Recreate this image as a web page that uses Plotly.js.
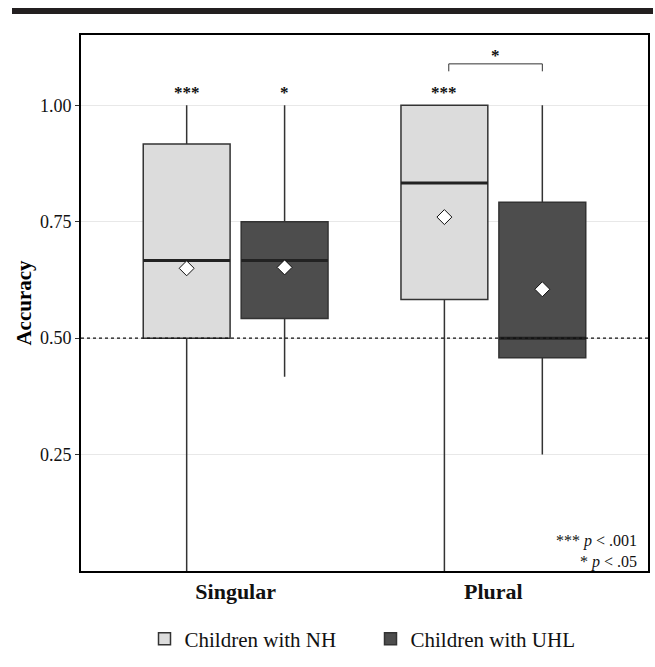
<!DOCTYPE html>
<html><head><meta charset="utf-8">
<script src="https://cdn.plot.ly/plotly-3.0.1.min.js"></script>
<style>
html,body{margin:0;padding:0;background:#fff;}
#bar{position:absolute;left:12px;top:8px;width:641px;height:6px;background:#231f20;z-index:5;}
#chart{position:absolute;left:0;top:0;width:655px;height:667px;}
</style>
</head><body>
<div id="chart"></div><div id="bar"></div>
<script>
// ---- data ----
const categories = ['Singular', 'Plural'];
const groups = ['Children with NH', 'Children with UHL'];

const nhLower  = [0.000, 0.000];
const nhQ1     = [0.500, 0.583];
const nhMedian = [0.667, 0.833];
const nhQ3     = [0.917, 1.000];
const nhUpper  = [1.000, 1.000];
const nhMean   = [0.650, 0.760];

const uhlLower  = [0.417, 0.250];
const uhlQ1     = [0.542, 0.458];
const uhlMedian = [0.667, 0.500];
const uhlQ3     = [0.750, 0.792];
const uhlUpper  = [1.000, 1.000];
const uhlMean   = [0.652, 0.605];

const sigCategory = [0, 0, 1];
const sigGroup    = [0, 1, 0];
const sigText     = ['***', '*', '***'];
const sigY        = [1.027, 1.027, 1.027];

const bracketCategory = 1;
const bracketY = 1.089;
const bracketTip = 1.073;
const bracketText = '*';
const bracketTextY = 1.107;

const chanceLevel = 0.5;
const yTicks = [0.25, 0.50, 0.75, 1.00];

// ---- layout helpers (styles) ----
const groupOffset = [-0.19, 0.19];
const boxWidth = 0.337;
const fills = ['#dcdcdc', '#4d4d4d'];
const lineCol = '#333333';
const FONT = 'Liberation Serif, Times New Roman, serif';

function pos(ci, gi) { return ci + 1 + groupOffset[gi]; }

const stats = [
  {lo: nhLower, q1: nhQ1, md: nhMedian, q3: nhQ3, up: nhUpper, mn: nhMean},
  {lo: uhlLower, q1: uhlQ1, md: uhlMedian, q3: uhlQ3, up: uhlUpper, mn: uhlMean}
];

const traces = [];
stats.forEach((s, gi) => {
  traces.push({
    type: 'box', name: groups[gi],
    x: categories.map((c, ci) => pos(ci, gi)),
    lowerfence: s.lo, q1: s.q1, median: s.md, q3: s.q3, upperfence: s.up,
    width: boxWidth, whiskerwidth: 0, boxpoints: false,
    fillcolor: fills[gi], line: {color: lineCol, width: 1.5},
    hoverinfo: 'skip'
  });
});
// thick median lines
stats.forEach((s, gi) => {
  const xs = [], ys = [];
  categories.forEach((c, ci) => {
    const p = pos(ci, gi);
    xs.push(p - boxWidth / 2, p + boxWidth / 2, null);
    ys.push(s.md[ci], s.md[ci], null);
  });
  traces.push({type: 'scatter', mode: 'lines', x: xs, y: ys, showlegend: false,
    line: {color: '#222', width: 3}, hoverinfo: 'skip'});
});
// mean diamonds
stats.forEach((s, gi) => {
  traces.push({type: 'scatter', mode: 'markers',
    x: categories.map((c, ci) => pos(ci, gi)), y: s.mn, showlegend: false,
    marker: {symbol: 'diamond', size: 11.5, color: '#fff', line: {color: '#111', width: 1}},
    hoverinfo: 'skip'});
});

const annotations = sigText.map((t, i) => ({
  x: pos(sigCategory[i], sigGroup[i]), y: sigY[i], xref: 'x', yref: 'y',
  text: '<b>' + t + '</b>', showarrow: false, yanchor: 'middle',
  font: {family: FONT, size: 17, color: '#111'}
}));
const bx0 = pos(bracketCategory, 0) + 0.017, bx1 = pos(bracketCategory, 1);
annotations.push({x: (bx0 + bx1) / 2, y: bracketTextY, xref: 'x', yref: 'y',
  text: '<b>' + bracketText + '</b>', showarrow: false, yanchor: 'middle',
  font: {family: FONT, size: 17, color: '#111'}});
annotations.push({x: 1, y: 0, xref: 'paper', yref: 'paper', xanchor: 'right', yanchor: 'bottom',
  xshift: -9, yshift: -2, align: 'right', showarrow: false,
  text: '*** <i>p</i> < .001<br>* <i>p</i> < .05',
  font: {family: FONT, size: 16, color: '#111'}});

const shapes = [
  {type: 'line', xref: 'paper', yref: 'y', x0: 0, x1: 1, y0: chanceLevel, y1: chanceLevel,
   line: {color: '#111', width: 1.3, dash: 'dot'}, layer: 'above'},
  {type: 'path', xref: 'x', yref: 'y',
   path: `M${bx0},${bracketTip} L${bx0},${bracketY} L${bx1},${bracketY} L${bx1},${bracketTip}`,
   line: {color: '#333', width: 1}}
];

const layout = {
  width: 655, height: 667,
  margin: {l: 81, r: 7, t: 35, b: 90},
  paper_bgcolor: '#fff', plot_bgcolor: '#fff',
  font: {family: FONT, color: '#111'},
  showlegend: true,
  legend: {orientation: 'h', x: 0.112, xanchor: 'left', y: -0.127, yanchor: 'middle',
    font: {family: FONT, size: 21, color: '#111'}, entrywidth: 181, traceorder: 'normal'},
  xaxis: {range: [0.4, 2.6], tickvals: categories.map((c, i) => i + 1),
    ticktext: categories.map(c => '<b>' + c + '</b>'),
    tickfont: {family: FONT, size: 22, color: '#111'},
    showgrid: false, zeroline: false, ticks: '', showline: true, mirror: true,
    linecolor: '#000', linewidth: 2},
  yaxis: {range: [0, 1.151], tickvals: yTicks, ticktext: yTicks.map(v => v.toFixed(2)),
    tickfont: {family: FONT, size: 18, color: '#111'},
    ticks: 'outside', ticklen: 4, tickcolor: '#333', tickwidth: 1,
    showgrid: true, gridcolor: '#e8e8e8', gridwidth: 1, zeroline: false,
    showline: true, mirror: true, linecolor: '#000', linewidth: 2,
    title: {text: '<b>Accuracy</b>', font: {family: FONT, size: 21, color: '#000'}, standoff: 3}},
  annotations: annotations, shapes: shapes
};

Plotly.newPlot('chart', traces, layout, {displayModeBar: false, staticPlot: true});
</script>
</body></html>
